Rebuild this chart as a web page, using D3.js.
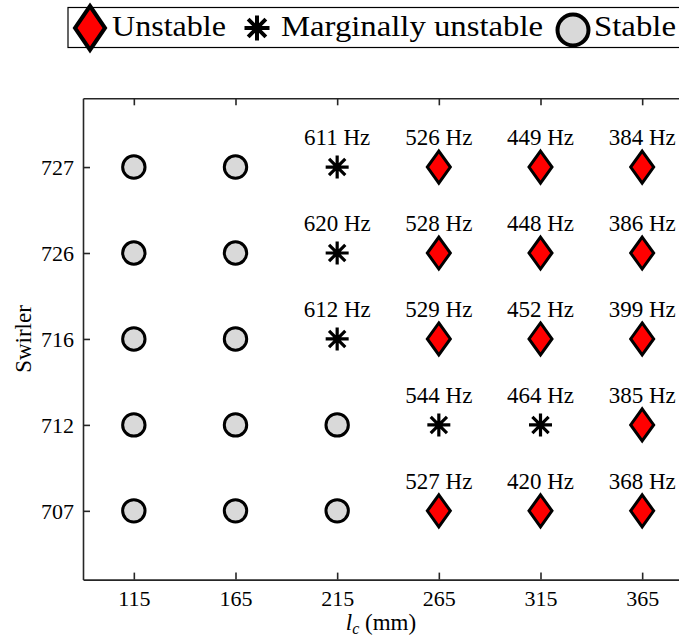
<!DOCTYPE html>
<html><head><meta charset="utf-8">
<script src="https://cdn.jsdelivr.net/npm/d3@7"></script>
<style>
html,body{margin:0;padding:0;background:#fff;overflow:hidden}
</style></head>
<body>
<svg id="c" width="679" height="644"></svg>
<script>
const lengths = [115, 165, 215, 265, 315, 365];
const swirlers = ["727", "726", "716", "712", "707"];
// U = unstable, M = marginally unstable, S = stable
const status727 = ["S", "S", "M", "U", "U", "U"];
const status726 = ["S", "S", "M", "U", "U", "U"];
const status716 = ["S", "S", "M", "U", "U", "U"];
const status712 = ["S", "S", "S", "M", "M", "U"];
const status707 = ["S", "S", "S", "U", "U", "U"];
const freq727 = [null, null, 611, 526, 449, 384];
const freq726 = [null, null, 620, 528, 448, 386];
const freq716 = [null, null, 612, 529, 452, 399];
const freq712 = [null, null, null, 544, 464, 385];
const freq707 = [null, null, null, 527, 420, 368];
const legendLabels = ["Unstable", "Marginally unstable", "Stable"];

const statusRows = [status727, status726, status716, status712, status707];
const freqRows = [freq727, freq726, freq716, freq712, freq707];

const FONT = '"Liberation Serif","DejaVu Serif"';
const svg = d3.select("#c");
const x = d3.scaleLinear().domain([90, 390]).range([83, 693]);
const y = d3.scaleLinear().domain([-0.8, 4.8]).range([98.3, 579.6]);

const axisColor = "#262626";
const gx = svg.append("g").attr("transform", `translate(0,${y(4.8)})`)
  .call(d3.axisBottom(x).tickValues(lengths).tickSizeInner(-7).tickSizeOuter(0).tickPadding(11));
const gxt = svg.append("g").attr("transform", `translate(0,${y(-0.8)})`)
  .call(d3.axisTop(x).tickValues(lengths).tickSizeInner(-7).tickSizeOuter(0).tickFormat(""));
const gy = svg.append("g").attr("transform", `translate(${x(90)},0)`)
  .call(d3.axisLeft(y).tickValues(d3.range(swirlers.length)).tickFormat(i => swirlers[i]).tickSizeInner(-7).tickSizeOuter(0).tickPadding(9));
[gx, gxt, gy].forEach(g => {
  g.attr("font-family", FONT).attr("font-size", 22);
  g.select(".domain").attr("stroke", axisColor).attr("stroke-width", 1.6);
  g.selectAll(".tick line").attr("stroke", axisColor).attr("stroke-width", 1.6);
  g.selectAll(".tick text").attr("fill", "#000");
});
gx.selectAll(".tick text").attr("dy", "0.71em");
gy.selectAll(".tick text").attr("dy", "0.34em");

svg.append("text").attr("transform", `translate(31,339) rotate(-90)`)
  .attr("text-anchor", "middle").attr("font-family", FONT).attr("font-size", 23).text("Swirler");
const xt = svg.append("text").attr("x", 381).attr("y", 630).attr("text-anchor", "middle")
  .attr("font-family", FONT).attr("font-size", 23);
xt.append("tspan").attr("font-style", "italic").text("l");
xt.append("tspan").attr("font-style", "italic").attr("font-size", 16).attr("dy", 4).text("c");
xt.append("tspan").attr("dy", -4).text("\u00a0(mm)");

function diamond(g, cx, cy, hw, hh, sw) {
  g.append("path").attr("d", `M${cx},${cy - hh}L${cx + hw},${cy}L${cx},${cy + hh}L${cx - hw},${cy}Z`)
    .attr("fill", "#ff0000").attr("stroke", "#000").attr("stroke-width", sw).attr("stroke-linejoin", "miter");
}
function star(g, cx, cy, r, sw) {
  const d = r * Math.SQRT1_2;
  g.append("path").attr("d",
    `M${cx - r},${cy}L${cx + r},${cy}M${cx},${cy - r}L${cx},${cy + r}` +
    `M${cx - d},${cy - d}L${cx + d},${cy + d}M${cx - d},${cy + d}L${cx + d},${cy - d}`)
    .attr("stroke", "#000").attr("stroke-width", sw).attr("fill", "none");
}
function circle(g, cx, cy, r, sw) {
  g.append("circle").attr("cx", cx).attr("cy", cy).attr("r", r)
    .attr("fill", "#d9d9d9").attr("stroke", "#000").attr("stroke-width", sw);
}

const marks = svg.append("g");
statusRows.forEach((row, i) => {
  row.forEach((s, j) => {
    const cx = x(lengths[j]), cy = y(i);
    if (s === "U") diamond(marks, cx, cy, 11.5, 16, 3);
    else if (s === "M") star(marks, cx, cy, 11.5, 3.2);
    else circle(marks, cx, cy, 11.2, 3);
    const f = freqRows[i][j];
    if (f !== null) {
      marks.append("text").attr("x", cx).attr("y", cy - 22).attr("text-anchor", "middle")
        .attr("font-family", FONT).attr("font-size", 23).text(`${f} Hz`);
    }
  });
});

const lg = svg.append("g");
lg.append("rect").attr("x", 68).attr("y", 7.5).attr("width", 700).attr("height", 40)
  .attr("fill", "#fff").attr("stroke", "#000").attr("stroke-width", 1.2);
diamond(lg, 90, 28, 15, 22, 4);
star(lg, 257, 28, 12.5, 4);
circle(lg, 573, 30, 15.5, 4);
const legX = [112, 281, 594];
const legW = [114, 262, 82];
legendLabels.forEach((t, k) => {
  lg.append("text").attr("x", legX[k]).attr("y", 36).attr("font-family", FONT).attr("font-size", 30)
    .attr("textLength", legW[k]).attr("lengthAdjust", "spacingAndGlyphs").text(t);
});
</script>
</body></html>
